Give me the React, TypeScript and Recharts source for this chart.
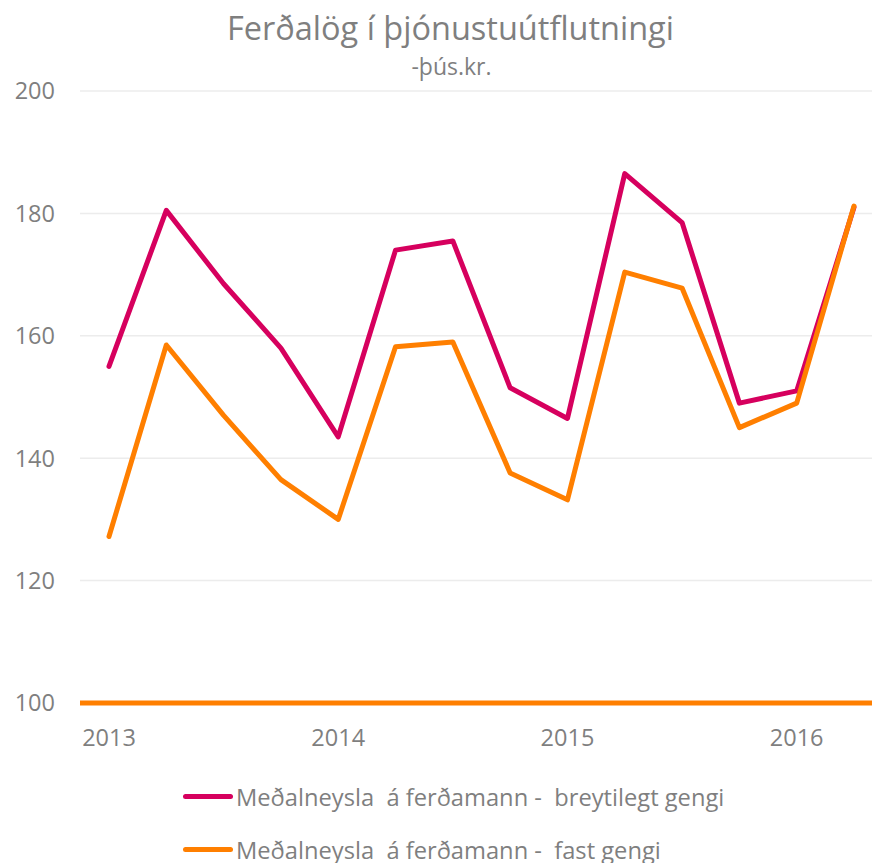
import { CartesianGrid, Line, LineChart, XAxis, YAxis } from "recharts";

const quarters = [
  "2013K1", "2013K2", "2013K3", "2013K4",
  "2014K1", "2014K2", "2014K3", "2014K4",
  "2015K1", "2015K2", "2015K3", "2015K4",
  "2016K1", "2016K2",
];
const breytilegtGengi = [155, 180.5, 168.5, 158, 143.5, 174, 175.5, 151.5, 146.5, 186.5, 178.5, 149, 151, 181];
const fastGengi = [127.2, 158.5, 147, 136.5, 130, 158.2, 159, 137.6, 133.2, 170.4, 167.8, 145, 149, 181.2];
const yTicks = [100, 120, 140, 160, 180, 200];

const series = [
  { key: "breytilegt", name: "Meðalneysla  á ferðamann -  breytilegt gengi", color: "#D6005E" },
  { key: "fast", name: "Meðalneysla  á ferðamann -  fast gengi", color: "#FF7F00" },
];

const data = quarters.map((q, i) => ({
  q,
  breytilegt: breytilegtGengi[i],
  fast: fastGengi[i],
}));

const FONT = "'Open Sans', sans-serif";
const GREY = "#7f7f7f";

export default function App() {
  return (
    <div style={{ position: "absolute", left: 0, top: 0, width: 872, height: 863, overflow: "hidden", background: "#fff", fontFamily: FONT }}>
      <LineChart width={884} height={863} data={data} margin={{ top: 91, right: 0, left: 0, bottom: 100 }}>
        <CartesianGrid horizontal vertical={false} stroke="#ececec" strokeWidth={1.5} />
        <XAxis
          dataKey="q"
          interval={0}
          padding={{ left: 29, right: 30 }}
          height={60}
          tickSize={0}
          tickMargin={26}
          tickFormatter={(v: string) => (v.endsWith("K1") ? v.slice(0, 4) : "")}
          tick={{ fill: GREY, fontSize: 23.5, fontFamily: FONT }}
          axisLine={{ stroke: "#FF7F00", strokeWidth: 5 }}
        />
        <YAxis
          domain={[100, 200]}
          ticks={yTicks}
          width={80}
          tickSize={0}
          tickMargin={25}
          axisLine={false}
          tick={{ fill: GREY, fontSize: 23.5, fontFamily: FONT }}
        />
        {series.map((s) => (
          <Line
            key={s.key}
            dataKey={s.key}
            name={s.name}
            stroke={s.color}
            strokeWidth={5}
            strokeLinecap="round"
            strokeLinejoin="round"
            dot={false}
            activeDot={false}
            isAnimationActive={false}
          />
        ))}
      </LineChart>

      <div style={{ position: "absolute", left: 0, width: 901, top: 8, textAlign: "center", color: GREY, fontSize: 32.5, lineHeight: "40px" }}>
        Ferðalög í þjónustuútflutningi
      </div>
      <div style={{ position: "absolute", left: 0, width: 903, top: 52, textAlign: "center", color: GREY, fontSize: 23, lineHeight: "28px" }}>
        -þús.kr.
      </div>

      <div style={{ position: "absolute", left: 183, top: 770 }}>
        {series.map((s) => (
          <div key={s.key} style={{ display: "flex", alignItems: "center", height: 53 }}>
            <div style={{ width: 50, height: 5, borderRadius: 3, background: s.color, marginRight: 3 }} />
            <span style={{ color: GREY, fontSize: 23.7, whiteSpace: "pre" }}>{s.name}</span>
          </div>
        ))}
      </div>
    </div>
  );
}
